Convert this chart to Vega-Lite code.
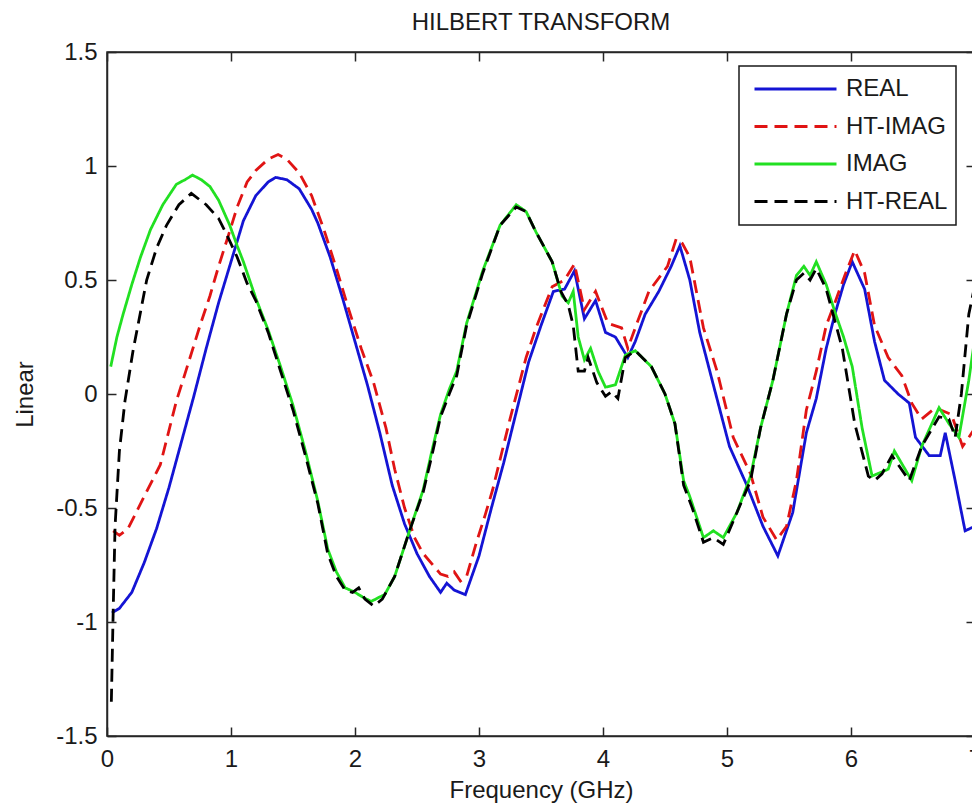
{
  "$schema": "https://vega.github.io/schema/vega-lite/v6.json",
  "autosize": "none",
  "width": 868,
  "height": 684,
  "padding": {"left": 107, "top": 52, "right": 0, "bottom": 72},
  "title": {"text": "HILBERT TRANSFORM", "fontSize": 24, "font": "Liberation Sans", "fontWeight": "normal", "color": "#1a1a1a", "offset": 5},
  "data": {"values": [
    {"f":0.04,"v":-0.96,"s":"REAL"},{"f":0.1,"v":-0.94,"s":"REAL"},{"f":0.2,"v":-0.87,"s":"REAL"},{"f":0.3,"v":-0.74,"s":"REAL"},{"f":0.4,"v":-0.59,"s":"REAL"},{"f":0.5,"v":-0.41,"s":"REAL"},{"f":0.6,"v":-0.21,"s":"REAL"},{"f":0.7,"v":-0.01,"s":"REAL"},{"f":0.8,"v":0.2,"s":"REAL"},{"f":0.9,"v":0.4,"s":"REAL"},{"f":1.0,"v":0.58,"s":"REAL"},{"f":1.1,"v":0.76,"s":"REAL"},{"f":1.2,"v":0.87,"s":"REAL"},{"f":1.3,"v":0.93,"s":"REAL"},{"f":1.36,"v":0.95,"s":"REAL"},{"f":1.45,"v":0.94,"s":"REAL"},{"f":1.55,"v":0.9,"s":"REAL"},{"f":1.65,"v":0.81,"s":"REAL"},{"f":1.7,"v":0.75,"s":"REAL"},{"f":1.8,"v":0.6,"s":"REAL"},{"f":1.9,"v":0.42,"s":"REAL"},{"f":2.0,"v":0.23,"s":"REAL"},{"f":2.1,"v":0.04,"s":"REAL"},{"f":2.2,"v":-0.17,"s":"REAL"},{"f":2.3,"v":-0.4,"s":"REAL"},{"f":2.4,"v":-0.57,"s":"REAL"},{"f":2.5,"v":-0.7,"s":"REAL"},{"f":2.6,"v":-0.8,"s":"REAL"},{"f":2.69,"v":-0.87,"s":"REAL"},{"f":2.74,"v":-0.83,"s":"REAL"},{"f":2.8,"v":-0.86,"s":"REAL"},{"f":2.89,"v":-0.88,"s":"REAL"},{"f":3.0,"v":-0.71,"s":"REAL"},{"f":3.1,"v":-0.5,"s":"REAL"},{"f":3.2,"v":-0.3,"s":"REAL"},{"f":3.3,"v":-0.08,"s":"REAL"},{"f":3.4,"v":0.14,"s":"REAL"},{"f":3.5,"v":0.3,"s":"REAL"},{"f":3.6,"v":0.45,"s":"REAL"},{"f":3.69,"v":0.46,"s":"REAL"},{"f":3.77,"v":0.54,"s":"REAL"},{"f":3.85,"v":0.33,"s":"REAL"},{"f":3.94,"v":0.41,"s":"REAL"},{"f":4.02,"v":0.27,"s":"REAL"},{"f":4.1,"v":0.25,"s":"REAL"},{"f":4.2,"v":0.16,"s":"REAL"},{"f":4.26,"v":0.23,"s":"REAL"},{"f":4.34,"v":0.35,"s":"REAL"},{"f":4.45,"v":0.45,"s":"REAL"},{"f":4.55,"v":0.56,"s":"REAL"},{"f":4.62,"v":0.65,"s":"REAL"},{"f":4.7,"v":0.5,"s":"REAL"},{"f":4.78,"v":0.27,"s":"REAL"},{"f":4.89,"v":0.04,"s":"REAL"},{"f":5.02,"v":-0.23,"s":"REAL"},{"f":5.16,"v":-0.4,"s":"REAL"},{"f":5.29,"v":-0.58,"s":"REAL"},{"f":5.41,"v":-0.71,"s":"REAL"},{"f":5.53,"v":-0.52,"s":"REAL"},{"f":5.64,"v":-0.17,"s":"REAL"},{"f":5.72,"v":-0.02,"s":"REAL"},{"f":5.8,"v":0.2,"s":"REAL"},{"f":5.87,"v":0.35,"s":"REAL"},{"f":5.94,"v":0.48,"s":"REAL"},{"f":6.01,"v":0.58,"s":"REAL"},{"f":6.11,"v":0.46,"s":"REAL"},{"f":6.19,"v":0.23,"s":"REAL"},{"f":6.27,"v":0.06,"s":"REAL"},{"f":6.38,"v":0.0,"s":"REAL"},{"f":6.47,"v":-0.04,"s":"REAL"},{"f":6.52,"v":-0.19,"s":"REAL"},{"f":6.63,"v":-0.27,"s":"REAL"},{"f":6.72,"v":-0.27,"s":"REAL"},{"f":6.76,"v":-0.17,"s":"REAL"},{"f":6.84,"v":-0.38,"s":"REAL"},{"f":6.92,"v":-0.6,"s":"REAL"},{"f":7.0,"v":-0.58,"s":"REAL"},
    {"f":0.05,"v":-0.6,"s":"HT-IMAG"},{"f":0.1,"v":-0.62,"s":"HT-IMAG"},{"f":0.17,"v":-0.59,"s":"HT-IMAG"},{"f":0.29,"v":-0.46,"s":"HT-IMAG"},{"f":0.43,"v":-0.31,"s":"HT-IMAG"},{"f":0.56,"v":-0.03,"s":"HT-IMAG"},{"f":0.67,"v":0.16,"s":"HT-IMAG"},{"f":0.75,"v":0.3,"s":"HT-IMAG"},{"f":0.83,"v":0.43,"s":"HT-IMAG"},{"f":0.9,"v":0.56,"s":"HT-IMAG"},{"f":0.97,"v":0.68,"s":"HT-IMAG"},{"f":1.05,"v":0.82,"s":"HT-IMAG"},{"f":1.13,"v":0.93,"s":"HT-IMAG"},{"f":1.2,"v":0.98,"s":"HT-IMAG"},{"f":1.3,"v":1.03,"s":"HT-IMAG"},{"f":1.38,"v":1.05,"s":"HT-IMAG"},{"f":1.45,"v":1.03,"s":"HT-IMAG"},{"f":1.55,"v":0.97,"s":"HT-IMAG"},{"f":1.65,"v":0.87,"s":"HT-IMAG"},{"f":1.75,"v":0.72,"s":"HT-IMAG"},{"f":1.85,"v":0.55,"s":"HT-IMAG"},{"f":1.95,"v":0.37,"s":"HT-IMAG"},{"f":2.05,"v":0.2,"s":"HT-IMAG"},{"f":2.15,"v":0.05,"s":"HT-IMAG"},{"f":2.25,"v":-0.15,"s":"HT-IMAG"},{"f":2.32,"v":-0.33,"s":"HT-IMAG"},{"f":2.4,"v":-0.5,"s":"HT-IMAG"},{"f":2.48,"v":-0.63,"s":"HT-IMAG"},{"f":2.55,"v":-0.7,"s":"HT-IMAG"},{"f":2.69,"v":-0.79,"s":"HT-IMAG"},{"f":2.75,"v":-0.8,"s":"HT-IMAG"},{"f":2.8,"v":-0.78,"s":"HT-IMAG"},{"f":2.85,"v":-0.82,"s":"HT-IMAG"},{"f":2.9,"v":-0.8,"s":"HT-IMAG"},{"f":2.98,"v":-0.65,"s":"HT-IMAG"},{"f":3.05,"v":-0.53,"s":"HT-IMAG"},{"f":3.11,"v":-0.42,"s":"HT-IMAG"},{"f":3.25,"v":-0.11,"s":"HT-IMAG"},{"f":3.38,"v":0.16,"s":"HT-IMAG"},{"f":3.46,"v":0.29,"s":"HT-IMAG"},{"f":3.59,"v":0.47,"s":"HT-IMAG"},{"f":3.69,"v":0.5,"s":"HT-IMAG"},{"f":3.77,"v":0.57,"s":"HT-IMAG"},{"f":3.85,"v":0.37,"s":"HT-IMAG"},{"f":3.94,"v":0.45,"s":"HT-IMAG"},{"f":4.04,"v":0.31,"s":"HT-IMAG"},{"f":4.15,"v":0.29,"s":"HT-IMAG"},{"f":4.2,"v":0.2,"s":"HT-IMAG"},{"f":4.26,"v":0.29,"s":"HT-IMAG"},{"f":4.37,"v":0.45,"s":"HT-IMAG"},{"f":4.52,"v":0.56,"s":"HT-IMAG"},{"f":4.59,"v":0.68,"s":"HT-IMAG"},{"f":4.64,"v":0.66,"s":"HT-IMAG"},{"f":4.7,"v":0.6,"s":"HT-IMAG"},{"f":4.81,"v":0.29,"s":"HT-IMAG"},{"f":4.92,"v":0.1,"s":"HT-IMAG"},{"f":5.05,"v":-0.19,"s":"HT-IMAG"},{"f":5.19,"v":-0.35,"s":"HT-IMAG"},{"f":5.29,"v":-0.54,"s":"HT-IMAG"},{"f":5.4,"v":-0.64,"s":"HT-IMAG"},{"f":5.48,"v":-0.58,"s":"HT-IMAG"},{"f":5.56,"v":-0.38,"s":"HT-IMAG"},{"f":5.64,"v":-0.07,"s":"HT-IMAG"},{"f":5.72,"v":0.1,"s":"HT-IMAG"},{"f":5.8,"v":0.3,"s":"HT-IMAG"},{"f":5.87,"v":0.4,"s":"HT-IMAG"},{"f":5.95,"v":0.52,"s":"HT-IMAG"},{"f":6.03,"v":0.63,"s":"HT-IMAG"},{"f":6.11,"v":0.53,"s":"HT-IMAG"},{"f":6.19,"v":0.3,"s":"HT-IMAG"},{"f":6.3,"v":0.16,"s":"HT-IMAG"},{"f":6.41,"v":0.08,"s":"HT-IMAG"},{"f":6.49,"v":-0.04,"s":"HT-IMAG"},{"f":6.57,"v":-0.11,"s":"HT-IMAG"},{"f":6.68,"v":-0.06,"s":"HT-IMAG"},{"f":6.81,"v":-0.09,"s":"HT-IMAG"},{"f":6.9,"v":-0.23,"s":"HT-IMAG"},{"f":7.0,"v":-0.15,"s":"HT-IMAG"},
    {"f":0.03,"v":0.12,"s":"IMAG"},{"f":0.08,"v":0.25,"s":"IMAG"},{"f":0.13,"v":0.35,"s":"IMAG"},{"f":0.2,"v":0.48,"s":"IMAG"},{"f":0.27,"v":0.6,"s":"IMAG"},{"f":0.35,"v":0.72,"s":"IMAG"},{"f":0.45,"v":0.83,"s":"IMAG"},{"f":0.56,"v":0.92,"s":"IMAG"},{"f":0.63,"v":0.94,"s":"IMAG"},{"f":0.69,"v":0.96,"s":"IMAG"},{"f":0.76,"v":0.94,"s":"IMAG"},{"f":0.83,"v":0.91,"s":"IMAG"},{"f":0.9,"v":0.85,"s":"IMAG"},{"f":0.99,"v":0.74,"s":"IMAG"},{"f":1.05,"v":0.65,"s":"IMAG"},{"f":1.1,"v":0.58,"s":"IMAG"},{"f":1.2,"v":0.42,"s":"IMAG"},{"f":1.3,"v":0.28,"s":"IMAG"},{"f":1.4,"v":0.12,"s":"IMAG"},{"f":1.5,"v":-0.05,"s":"IMAG"},{"f":1.6,"v":-0.25,"s":"IMAG"},{"f":1.7,"v":-0.47,"s":"IMAG"},{"f":1.78,"v":-0.68,"s":"IMAG"},{"f":1.85,"v":-0.78,"s":"IMAG"},{"f":1.92,"v":-0.85,"s":"IMAG"},{"f":2.0,"v":-0.87,"s":"IMAG"},{"f":2.06,"v":-0.89,"s":"IMAG"},{"f":2.13,"v":-0.91,"s":"IMAG"},{"f":2.2,"v":-0.89,"s":"IMAG"},{"f":2.24,"v":-0.88,"s":"IMAG"},{"f":2.32,"v":-0.8,"s":"IMAG"},{"f":2.44,"v":-0.6,"s":"IMAG"},{"f":2.55,"v":-0.42,"s":"IMAG"},{"f":2.62,"v":-0.25,"s":"IMAG"},{"f":2.69,"v":-0.09,"s":"IMAG"},{"f":2.76,"v":0.02,"s":"IMAG"},{"f":2.82,"v":0.1,"s":"IMAG"},{"f":2.9,"v":0.31,"s":"IMAG"},{"f":3.03,"v":0.54,"s":"IMAG"},{"f":3.17,"v":0.74,"s":"IMAG"},{"f":3.3,"v":0.83,"s":"IMAG"},{"f":3.38,"v":0.8,"s":"IMAG"},{"f":3.46,"v":0.71,"s":"IMAG"},{"f":3.59,"v":0.58,"s":"IMAG"},{"f":3.67,"v":0.43,"s":"IMAG"},{"f":3.72,"v":0.4,"s":"IMAG"},{"f":3.76,"v":0.45,"s":"IMAG"},{"f":3.8,"v":0.25,"s":"IMAG"},{"f":3.85,"v":0.15,"s":"IMAG"},{"f":3.9,"v":0.2,"s":"IMAG"},{"f":3.96,"v":0.1,"s":"IMAG"},{"f":4.02,"v":0.03,"s":"IMAG"},{"f":4.1,"v":0.04,"s":"IMAG"},{"f":4.18,"v":0.17,"s":"IMAG"},{"f":4.26,"v":0.19,"s":"IMAG"},{"f":4.39,"v":0.12,"s":"IMAG"},{"f":4.5,"v":0.0,"s":"IMAG"},{"f":4.58,"v":-0.13,"s":"IMAG"},{"f":4.65,"v":-0.38,"s":"IMAG"},{"f":4.7,"v":-0.45,"s":"IMAG"},{"f":4.81,"v":-0.63,"s":"IMAG"},{"f":4.89,"v":-0.6,"s":"IMAG"},{"f":4.97,"v":-0.63,"s":"IMAG"},{"f":5.08,"v":-0.52,"s":"IMAG"},{"f":5.19,"v":-0.36,"s":"IMAG"},{"f":5.27,"v":-0.15,"s":"IMAG"},{"f":5.37,"v":0.06,"s":"IMAG"},{"f":5.48,"v":0.35,"s":"IMAG"},{"f":5.56,"v":0.52,"s":"IMAG"},{"f":5.62,"v":0.56,"s":"IMAG"},{"f":5.67,"v":0.52,"s":"IMAG"},{"f":5.72,"v":0.58,"s":"IMAG"},{"f":5.8,"v":0.48,"s":"IMAG"},{"f":5.87,"v":0.36,"s":"IMAG"},{"f":5.94,"v":0.25,"s":"IMAG"},{"f":6.01,"v":0.12,"s":"IMAG"},{"f":6.09,"v":-0.15,"s":"IMAG"},{"f":6.17,"v":-0.36,"s":"IMAG"},{"f":6.3,"v":-0.33,"s":"IMAG"},{"f":6.35,"v":-0.25,"s":"IMAG"},{"f":6.49,"v":-0.38,"s":"IMAG"},{"f":6.57,"v":-0.23,"s":"IMAG"},{"f":6.71,"v":-0.06,"s":"IMAG"},{"f":6.79,"v":-0.13,"s":"IMAG"},{"f":6.87,"v":-0.19,"s":"IMAG"},{"f":6.95,"v":0.06,"s":"IMAG"},{"f":7.0,"v":0.25,"s":"IMAG"},
    {"f":0.035,"v":-1.35,"s":"HT-REAL"},{"f":0.05,"v":-0.95,"s":"HT-REAL"},{"f":0.065,"v":-0.58,"s":"HT-REAL"},{"f":0.1,"v":-0.25,"s":"HT-REAL"},{"f":0.145,"v":-0.03,"s":"HT-REAL"},{"f":0.21,"v":0.19,"s":"HT-REAL"},{"f":0.32,"v":0.5,"s":"HT-REAL"},{"f":0.4,"v":0.64,"s":"HT-REAL"},{"f":0.48,"v":0.74,"s":"HT-REAL"},{"f":0.58,"v":0.83,"s":"HT-REAL"},{"f":0.68,"v":0.88,"s":"HT-REAL"},{"f":0.8,"v":0.83,"s":"HT-REAL"},{"f":0.9,"v":0.77,"s":"HT-REAL"},{"f":0.965,"v":0.7,"s":"HT-REAL"},{"f":1.05,"v":0.6,"s":"HT-REAL"},{"f":1.13,"v":0.485,"s":"HT-REAL"},{"f":1.2,"v":0.41,"s":"HT-REAL"},{"f":1.3,"v":0.27,"s":"HT-REAL"},{"f":1.4,"v":0.1,"s":"HT-REAL"},{"f":1.5,"v":-0.07,"s":"HT-REAL"},{"f":1.6,"v":-0.27,"s":"HT-REAL"},{"f":1.7,"v":-0.48,"s":"HT-REAL"},{"f":1.78,"v":-0.7,"s":"HT-REAL"},{"f":1.85,"v":-0.8,"s":"HT-REAL"},{"f":1.92,"v":-0.86,"s":"HT-REAL"},{"f":1.98,"v":-0.87,"s":"HT-REAL"},{"f":2.03,"v":-0.85,"s":"HT-REAL"},{"f":2.08,"v":-0.9,"s":"HT-REAL"},{"f":2.15,"v":-0.93,"s":"HT-REAL"},{"f":2.22,"v":-0.9,"s":"HT-REAL"},{"f":2.32,"v":-0.8,"s":"HT-REAL"},{"f":2.44,"v":-0.6,"s":"HT-REAL"},{"f":2.55,"v":-0.43,"s":"HT-REAL"},{"f":2.62,"v":-0.27,"s":"HT-REAL"},{"f":2.69,"v":-0.1,"s":"HT-REAL"},{"f":2.76,"v":0.0,"s":"HT-REAL"},{"f":2.82,"v":0.08,"s":"HT-REAL"},{"f":2.9,"v":0.3,"s":"HT-REAL"},{"f":3.03,"v":0.53,"s":"HT-REAL"},{"f":3.17,"v":0.74,"s":"HT-REAL"},{"f":3.3,"v":0.82,"s":"HT-REAL"},{"f":3.38,"v":0.8,"s":"HT-REAL"},{"f":3.46,"v":0.71,"s":"HT-REAL"},{"f":3.59,"v":0.58,"s":"HT-REAL"},{"f":3.66,"v":0.45,"s":"HT-REAL"},{"f":3.72,"v":0.39,"s":"HT-REAL"},{"f":3.76,"v":0.3,"s":"HT-REAL"},{"f":3.8,"v":0.1,"s":"HT-REAL"},{"f":3.85,"v":0.1,"s":"HT-REAL"},{"f":3.88,"v":0.16,"s":"HT-REAL"},{"f":3.95,"v":0.05,"s":"HT-REAL"},{"f":4.02,"v":-0.01,"s":"HT-REAL"},{"f":4.07,"v":0.01,"s":"HT-REAL"},{"f":4.12,"v":-0.02,"s":"HT-REAL"},{"f":4.18,"v":0.16,"s":"HT-REAL"},{"f":4.26,"v":0.19,"s":"HT-REAL"},{"f":4.39,"v":0.12,"s":"HT-REAL"},{"f":4.5,"v":0.0,"s":"HT-REAL"},{"f":4.58,"v":-0.13,"s":"HT-REAL"},{"f":4.65,"v":-0.4,"s":"HT-REAL"},{"f":4.72,"v":-0.5,"s":"HT-REAL"},{"f":4.81,"v":-0.65,"s":"HT-REAL"},{"f":4.89,"v":-0.63,"s":"HT-REAL"},{"f":4.97,"v":-0.66,"s":"HT-REAL"},{"f":5.08,"v":-0.52,"s":"HT-REAL"},{"f":5.19,"v":-0.38,"s":"HT-REAL"},{"f":5.27,"v":-0.15,"s":"HT-REAL"},{"f":5.37,"v":0.06,"s":"HT-REAL"},{"f":5.48,"v":0.35,"s":"HT-REAL"},{"f":5.56,"v":0.5,"s":"HT-REAL"},{"f":5.62,"v":0.53,"s":"HT-REAL"},{"f":5.67,"v":0.5,"s":"HT-REAL"},{"f":5.72,"v":0.55,"s":"HT-REAL"},{"f":5.8,"v":0.46,"s":"HT-REAL"},{"f":5.93,"v":0.2,"s":"HT-REAL"},{"f":6.03,"v":-0.13,"s":"HT-REAL"},{"f":6.14,"v":-0.36,"s":"HT-REAL"},{"f":6.19,"v":-0.38,"s":"HT-REAL"},{"f":6.25,"v":-0.35,"s":"HT-REAL"},{"f":6.33,"v":-0.27,"s":"HT-REAL"},{"f":6.47,"v":-0.38,"s":"HT-REAL"},{"f":6.57,"v":-0.23,"s":"HT-REAL"},{"f":6.71,"v":-0.1,"s":"HT-REAL"},{"f":6.79,"v":-0.11,"s":"HT-REAL"},{"f":6.84,"v":-0.19,"s":"HT-REAL"},{"f":6.89,"v":0.0,"s":"HT-REAL"},{"f":6.95,"v":0.35,"s":"HT-REAL"},{"f":7.0,"v":0.48,"s":"HT-REAL"}
  ]},
  "layer": [
    {
      "mark": {"type": "line", "strokeWidth": 2.8, "clip": true},
      "encoding": {
        "x": {"field": "f", "type": "quantitative", "scale": {"domain": [0, 7], "nice": false},
              "axis": {"title": "Frequency (GHz)", "values": [0,1,2,3,4,5,6,7], "orient": "bottom", "labelPadding": 20, "titlePadding": 7, "labelExpr": "'' + datum.value"}},
        "y": {"field": "v", "type": "quantitative", "scale": {"domain": [-1.5, 1.5], "nice": false},
              "axis": {"title": "Linear", "values": [-1.5,-1,-0.5,0,0.5,1,1.5], "orient": "left", "labelPadding": 19, "titlePadding": 18, "labelExpr": "'' + datum.value"}},
        "color": {"field": "s", "type": "nominal", "sort": null,
                  "scale": {"domain": ["REAL","HT-IMAG","IMAG","HT-REAL"], "range": ["#1414d4","#e01414","#22e022","#000000"]},
                  "legend": {"title": null}},
        "strokeDash": {"field": "s", "type": "nominal", "sort": null,
                  "scale": {"domain": ["REAL","HT-IMAG","IMAG","HT-REAL"], "range": [[1,0],[13,7],[1,0],[13,7]]},
                  "legend": {"title": null}},
        "order": {"field": "f", "type": "quantitative"}
      }
    },
    {
      "mark": {"type": "line", "opacity": 0},
      "encoding": {
        "x": {"field": "f", "type": "quantitative", "axis": {"title": null, "labels": false, "values": [0,1,2,3,4,5,6,7], "orient": "top"}},
        "y": {"field": "v", "type": "quantitative", "axis": {"title": null, "labels": false, "values": [-1.5,-1,-0.5,0,0.5,1,1.5], "orient": "right"}}
      }
    }
  ],
  "resolve": {"axis": {"x": "independent", "y": "independent"}},
  "config": {
    "font": "Liberation Sans",
    "view": {"stroke": "#262626", "strokeWidth": 1.5},
    "axis": {
      "grid": false, "domainColor": "#262626", "domainWidth": 1.5, "tickColor": "#262626", "tickWidth": 1.5,
      "tickSize": -9, "labelFontSize": 24, "labelColor": "#1a1a1a", "titleFontSize": 24, "titleFontWeight": "normal", "titleColor": "#1a1a1a", "labelFont": "Liberation Sans", "titleFont": "Liberation Sans", "labelFlush": false, "labelOverlap": false
    },
    "legend": {
      "orient": "none", "legendX": 632, "legendY": 14,
      "fillColor": "#ffffff", "strokeColor": "#1a1a1a", "strokeWidth": 1.5, "padding": 8,
      "symbolType": "stroke", "symbolSize": 6724, "symbolStrokeWidth": 3, "symbolOffset": 6,
      "labelOffset": 8, "labelFontSize": 24, "labelFont": "Liberation Sans", "labelColor": "#1a1a1a",
      "clipHeight": 30, "rowPadding": 7.5
    }
  }
}
